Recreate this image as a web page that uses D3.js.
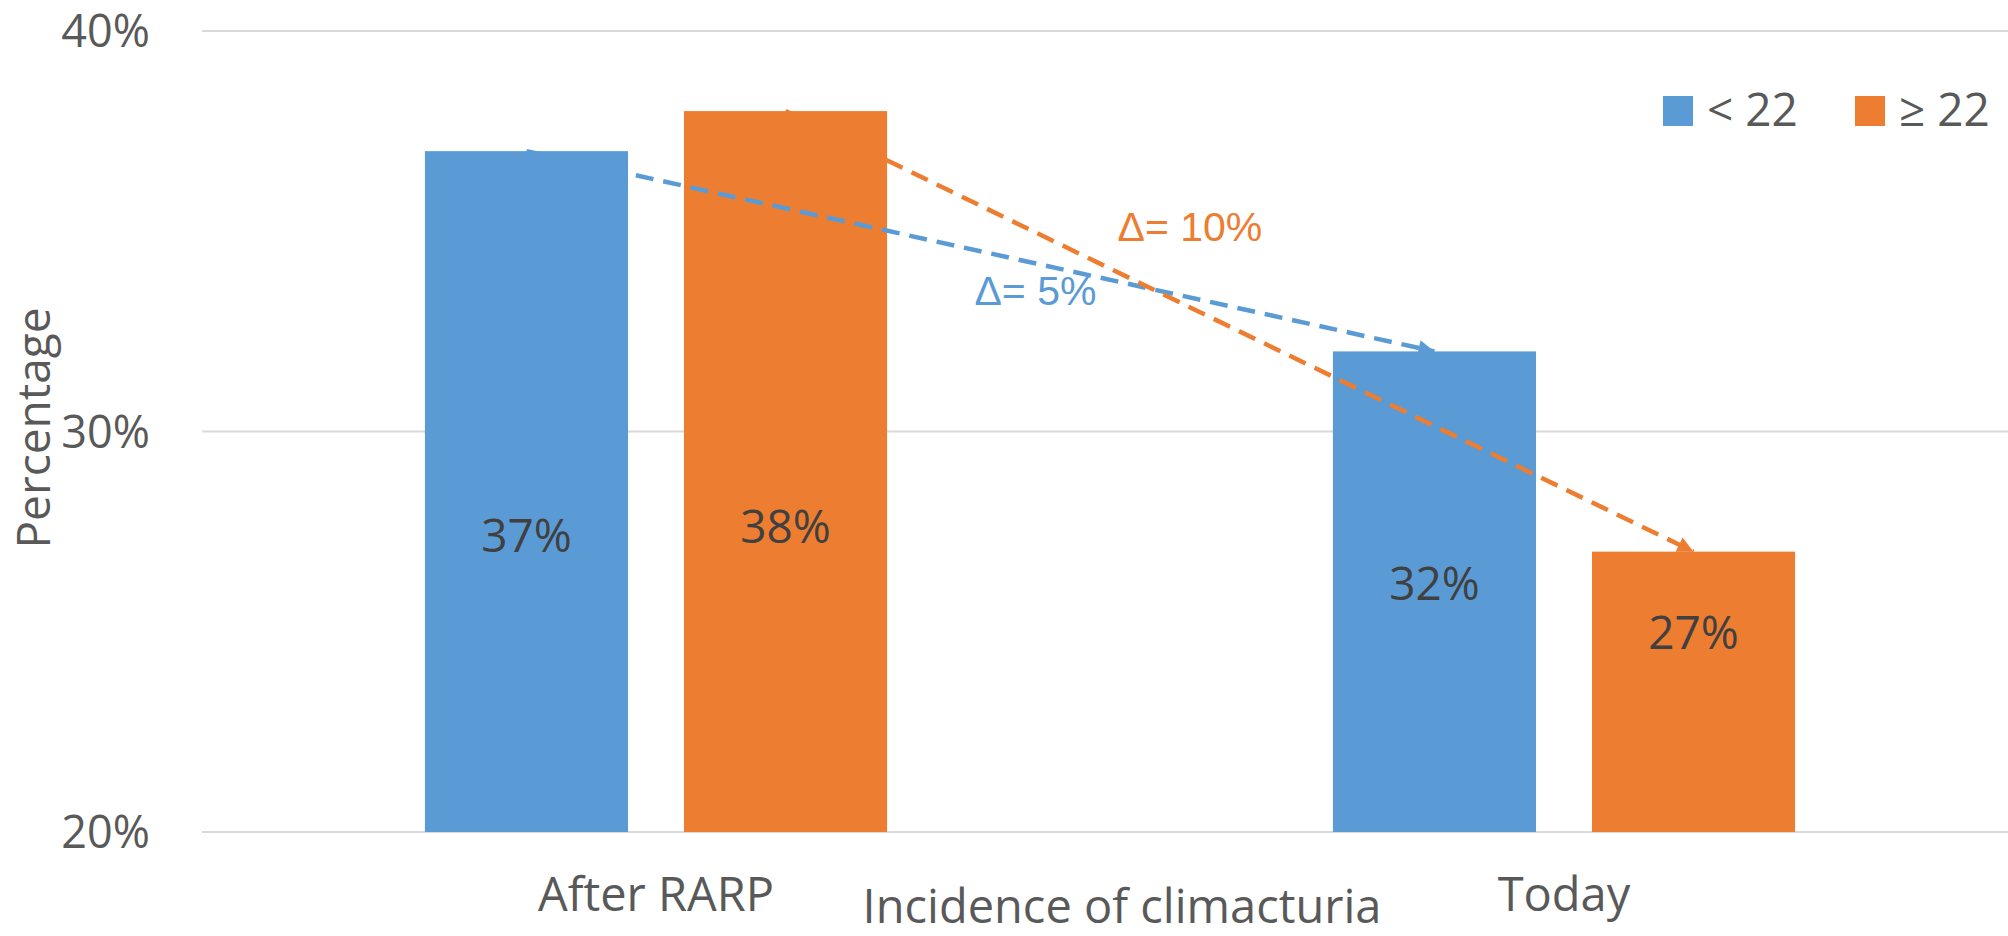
<!DOCTYPE html>
<html lang="en">
<head>
<meta charset="UTF-8">
<title>Incidence of climacturia</title>
<style>
  body { margin: 0; background: #fff; }
  svg text { font-family: "Open Sans", sans-serif; }
</style>
</head>
<body>
<svg id="chart" width="2008" height="936"></svg>
<script src="https://d3js.org/d3.v7.min.js"></script>
<script>
// data
const categories = ["After RARP", "Today"];
const seriesNames = ["< 22", "≥ 22"];
const lowValues = [37, 32];    // < 22
const highValues = [38, 27];   // ≥ 22
const deltaLabels = ["Δ= 5%", "Δ= 10%"];
const yTicks = [20, 30, 40];
const colors = ["#5B9BD5", "#ED7D31"];

const series = [lowValues, highValues];
const textColor = "#595959";

const svg = d3.select("#chart");

const x0 = d3.scaleBand()
    .domain(categories)
    .range([202, 2018])
    .paddingInner(0.491)
    .paddingOuter(0.2455);

const x1 = d3.scaleBand()
    .domain(seriesNames)
    .range([0, x0.bandwidth()])
    .paddingInner(0.216);

const y = d3.scaleLinear()
    .domain([20, 40])
    .range([832, 31]);

// gridlines
svg.append("g")
    .selectAll("line")
    .data(yTicks)
    .enter().append("line")
    .attr("x1", 202)
    .attr("x2", 2008)
    .attr("y1", d => y(d))
    .attr("y2", d => y(d))
    .attr("stroke", "#D9D9D9")
    .attr("stroke-width", 2);

// y tick labels
svg.append("g")
    .selectAll("text")
    .data(yTicks)
    .enter().append("text")
    .attr("x", 150)
    .attr("y", d => y(d) + 16)
    .attr("text-anchor", "end")
    .attr("font-size", 45)
    .attr("fill", textColor)
    .text(d => d + "%");

// bars
series.forEach((vals, s) => {
    svg.append("g")
        .selectAll("rect")
        .data(vals)
        .enter().append("rect")
        .attr("x", (d, i) => x0(categories[i]) + x1(seriesNames[s]))
        .attr("y", d => y(d))
        .attr("width", x1.bandwidth())
        .attr("height", d => y(20) - y(d))
        .attr("fill", colors[s]);
});

// data labels
series.forEach((vals, s) => {
    svg.append("g")
        .selectAll("text")
        .data(vals)
        .enter().append("text")
        .attr("x", (d, i) => x0(categories[i]) + x1(seriesNames[s]) + x1.bandwidth() / 2)
        .attr("y", d => y(18.5 + 0.24 * d) + 16)
        .attr("text-anchor", "middle")
        .attr("font-size", 46)
        .attr("fill", "#404040")
        .text(d => d + "%");
});

// arrow markers
const defs = svg.append("defs");
colors.forEach((c, s) => {
    defs.append("marker")
        .attr("id", "arrow" + s)
        .attr("viewBox", "0 0 10 10")
        .attr("refX", 10)
        .attr("refY", 5)
        .attr("markerUnits", "userSpaceOnUse")
        .attr("markerWidth", 20)
        .attr("markerHeight", 16)
        .attr("orient", "auto")
        .append("path")
        .attr("d", "M0,0 L10,5 L0,10 Z")
        .attr("fill", c);
});

// dashed change arrows from first to second category
const labelOffsets = [[-6, 54], [-122, -90]];
series.forEach((vals, s) => {
    const cx = i => x0(categories[i]) + x1(seriesNames[s]) + x1.bandwidth() / 2;
    const xa = cx(0), ya = y(vals[0]);
    const xb = cx(1), yb = y(vals[1]);
    svg.append("line")
        .attr("x1", xa).attr("y1", ya)
        .attr("x2", xb).attr("y2", yb)
        .attr("stroke", colors[s])
        .attr("stroke-width", 4.5)
        .attr("stroke-dasharray", "18,10")
        .attr("marker-end", "url(#arrow" + s + ")");

    svg.append("text")
        .attr("x", (xa + xb) / 2 + labelOffsets[s][0])
        .attr("y", (ya + yb) / 2 + labelOffsets[s][1])
        .attr("font-size", 41)
        .style("font-family", "'Liberation Sans', Arial, sans-serif")
        .attr("fill", colors[s])
        .text(deltaLabels[s]);
});

// category labels
svg.append("g")
    .selectAll("text")
    .data(categories)
    .enter().append("text")
    .attr("x", d => x0(d) + x0.bandwidth() / 2)
    .attr("y", 911)
    .attr("text-anchor", "middle")
    .attr("font-size", 47)
    .attr("fill", textColor)
    .text(d => d);

// axis titles
svg.append("text")
    .attr("x", 1122)
    .attr("y", 923)
    .attr("text-anchor", "middle")
    .attr("font-size", 47)
    .attr("fill", textColor)
    .text("Incidence of climacturia");

svg.append("text")
    .attr("transform", "translate(50,428) rotate(-90)")
    .attr("text-anchor", "middle")
    .attr("font-size", 46)
    .attr("fill", textColor)
    .text("Percentage");

// legend
const legend = svg.append("g")
    .selectAll("g")
    .data(seriesNames)
    .enter().append("g")
    .attr("transform", (d, i) => `translate(${1663 + i * 192},96)`);

legend.append("rect")
    .attr("width", 30)
    .attr("height", 30)
    .attr("fill", (d, i) => colors[i]);

legend.append("text")
    .attr("x", 44)
    .attr("y", 30)
    .attr("font-size", 46)
    .attr("fill", textColor)
    .text(d => d);
</script>
</body>
</html>
